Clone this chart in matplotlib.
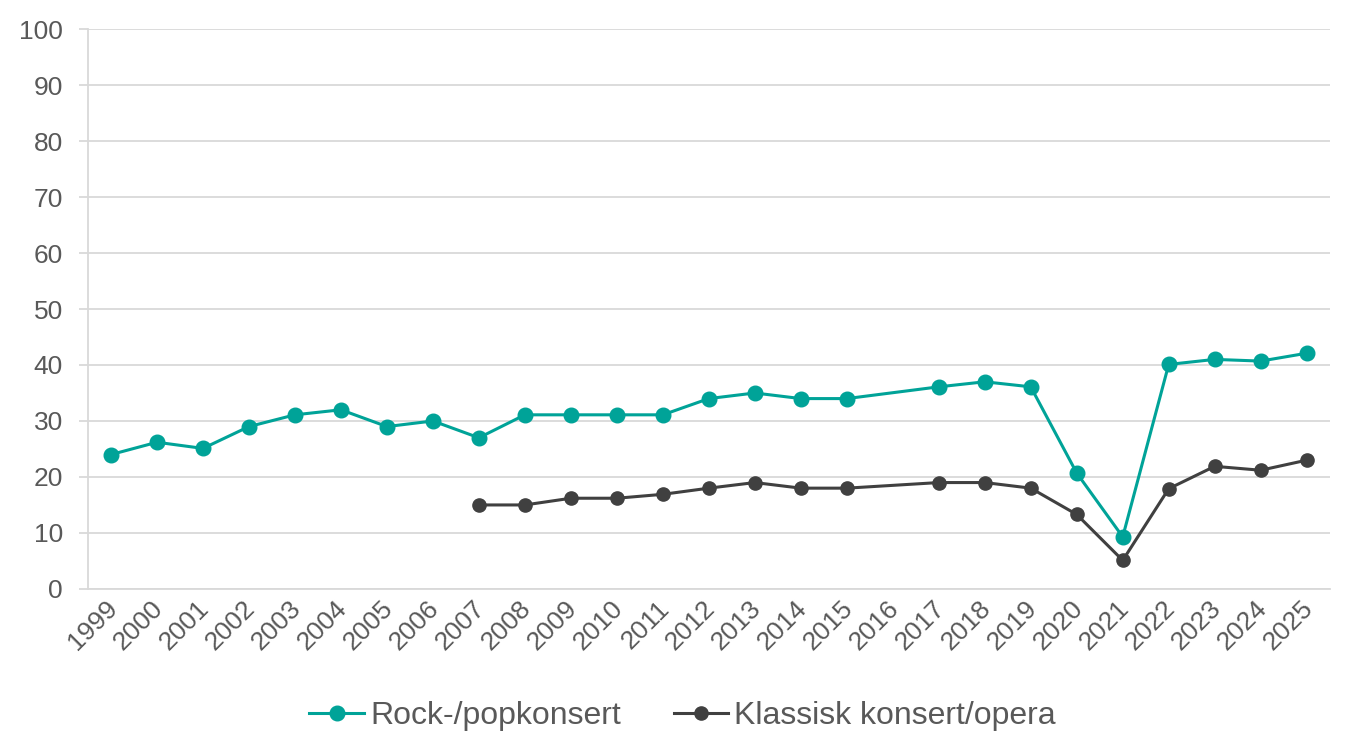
import numpy as np
import matplotlib.pyplot as plt
import matplotlib.transforms as mtrans

plt.rcParams['font.family'] = ['Liberation Sans', 'DejaVu Sans']

years = list(range(1999, 2026))
rock = [24, 26.2, 25.1, 29, 31.1, 32, 29, 30, 27, 31.1, 31.1, 31.1, 31.1,
        34, 35, 34, 34, np.nan, 36.1, 37, 36.1, 20.7, 9.3, 40.1, 41, 40.7, 42.1]
klassisk = [np.nan] * 8 + [15, 15, 16.2, 16.2, 16.9, 18, 19, 18, 18, np.nan,
                           19, 19, 18, 13.3, 5.1, 17.9, 21.9, 21.2, 23]

teal = '#00A398'
dark = '#404040'
grid_c = '#D9D9D9'
text_c = '#595959'

fig = plt.figure(figsize=(13.6, 7.56), dpi=100)
ax = fig.add_axes([0.0647, 0.221, 0.913, 0.7405])

x = np.array(years)
r = np.array(rock, dtype=float)
k = np.array(klassisk, dtype=float)
mr = ~np.isnan(r)
mk = ~np.isnan(k)
ax.plot(x[mr], r[mr], '-o', color=teal, lw=2.2, ms=10.5, label='Rock-/popkonsert', zorder=3)
ax.plot(x[mk], k[mk], '-o', color=dark, lw=2.2, ms=9.5, label='Klassisk konsert/opera', zorder=3)

ax.set_xlim(1998.5, 2025.5)
ax.set_ylim(0, 100)
ax.set_yticks(range(0, 101, 10))
ax.set_xticks(years)
ax.set_xticklabels([str(y) for y in years], rotation=45, ha='right',
                   rotation_mode='anchor')
ax.grid(axis='y', color=grid_c, lw=1.3)
ax.set_axisbelow(True)
for s in ['top', 'right']:
    ax.spines[s].set_visible(False)
for s in ['left', 'bottom']:
    ax.spines[s].set_color(grid_c)
    ax.spines[s].set_linewidth(1.3)
ax.tick_params(axis='y', colors=text_c, labelsize=19, length=6.5, width=1.3,
               color=grid_c, pad=11.5)
ax.tick_params(axis='x', colors=text_c, labelsize=19, length=0, pad=6)
shift = mtrans.ScaledTranslation(-6 / 100, 1 / 100, fig.dpi_scale_trans)
for lab in ax.get_xticklabels():
    lab.set_transform(lab.get_transform() + shift)

leg = fig.legend(loc='lower center', bbox_to_anchor=(0.502, -0.005), ncol=2,
                 frameon=False, fontsize=23, handlelength=1.7,
                 handletextpad=0.2, columnspacing=1.65)
for t in leg.get_texts():
    t.set_color(text_c)

fig.savefig('out.png', dpi=100)
